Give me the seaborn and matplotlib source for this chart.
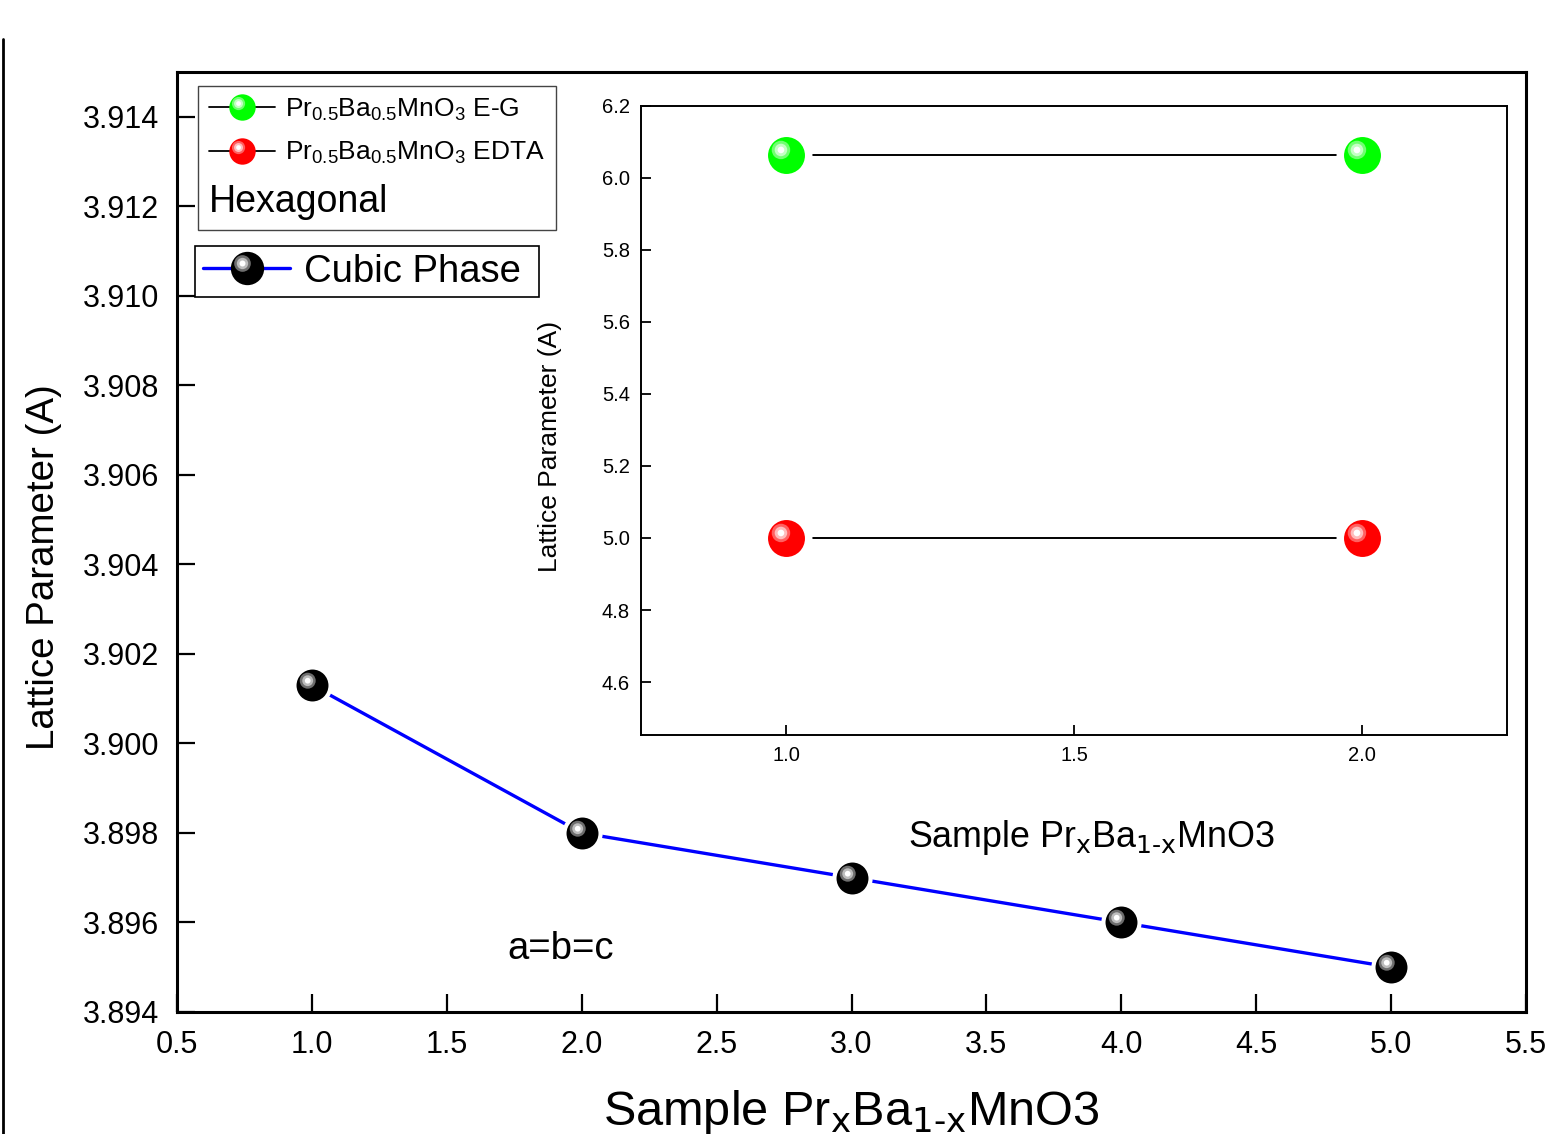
import numpy as np
import pandas as pd
import matplotlib
matplotlib.use("Agg")
import matplotlib.pyplot as plt
import seaborn as sns
from matplotlib.lines import Line2D
from matplotlib.path import Path
from matplotlib.legend_handler import HandlerTuple

# cubic phase (main panel)
sample_x = [1, 2, 3, 4, 5]
cubic_a = [3.9013, 3.8980, 3.8970, 3.8960, 3.8950]

# hexagonal phase (inset)
hex_x = [1, 2]
hex_eg = [6.064, 6.064]
hex_edta = [5.0, 5.0]

x_ticks = [0.5, 1.0, 1.5, 2.0, 2.5, 3.0, 3.5, 4.0, 4.5, 5.0, 5.5]
y_ticks = [3.894, 3.896, 3.898, 3.900, 3.902, 3.904, 3.906, 3.908, 3.910, 3.912, 3.914]
inset_x_ticks = [1.0, 1.5, 2.0]
inset_y_ticks = [4.6, 4.8, 5.0, 5.2, 5.4, 5.6, 5.8, 6.0, 6.2]

sns.set_style("ticks")
plt.rcParams["font.family"] = ["Liberation Sans", "DejaVu Sans"]
plt.rcParams["mathtext.default"] = "regular"
for k in ["text.color", "axes.labelcolor", "xtick.color", "ytick.color", "axes.edgecolor"]:
    plt.rcParams[k] = "black"

XLABEL = r"Sample Pr$_{\text{x}}$Ba$_{\text{1-x}}$MnO3"


def glint(cx, cy, r):
    # highlight spot, coordinates in units of the ball radius
    c = Path.circle((cx, cy), r)
    verts = np.vstack([[1.0, 1.0], c.vertices])
    codes = np.concatenate([[Path.MOVETO], c.codes])
    return Path(verts, codes)


glints = [glint(-0.3, 0.3, 0.5), glint(-0.3, 0.3, 0.34), glint(-0.3, 0.3, 0.18)]

shades = {
    "black": ["#6e6e6e", "#bdbdbd", "white"],
    "#00ff00": ["#70ff70", "#c4ffc4", "white"],
    "#ff0000": ["#ff6060", "#ffbcbc", "white"],
}


def ball(ax, x, y, color, ms, mew, line_color, lw):
    df = pd.DataFrame({"x": x, "y": y})
    inner = ms - mew
    sns.lineplot(data=df, x="x", y="y", ax=ax, color=line_color, lw=lw,
                 marker="o", markersize=ms, markerfacecolor=color,
                 markeredgecolor="white", markeredgewidth=mew, zorder=3)
    for i, (g, c) in enumerate(zip(glints, shades[color])):
        ax.plot(x, y, ls="none", marker=g, markersize=inner, mfc=c, mew=0, zorder=4 + i)


def ball_handle(color, line_color, ms, lw):
    hs = [Line2D([], [], color=line_color, lw=lw, marker="o", markersize=ms,
                 mfc=color, mec=color, mew=0)]
    for g, c in zip(glints, shades[color]):
        hs.append(Line2D([], [], ls="none", marker=g, markersize=ms, mfc=c, mew=0))
    return tuple(hs)


fig = plt.figure(figsize=(15.45, 11.34), dpi=100)
ax = fig.add_axes([0.1146, 0.1076, 0.8731, 0.8289])

ball(ax, sample_x, cubic_a, "black", 26, 3, "#0000ff", 2.4)

ax.set_xlim(0.5, 5.5)
ax.set_ylim(3.894, 3.915)
ax.set_xticks(x_ticks)
ax.set_xticklabels([f"{v:.1f}" for v in x_ticks])
ax.set_yticks(y_ticks)
ax.set_yticklabels([f"{v:.3f}" for v in y_ticks])
ax.tick_params(direction="in", length=13, width=1.6, labelsize=22, pad=13,
               top=False, right=False)
for s in ax.spines.values():
    s.set_linewidth(2.2)
    s.set_visible(True)

ax.set_xlabel(XLABEL, fontsize=35, labelpad=20)
ax.set_ylabel("Lattice Parameter (A)", fontsize=27.7)
ax.yaxis.set_label_coords(-0.085, 0.473)

ax.text(1.92, 3.8954, "a=b=c", fontsize=27.5, ha="center", va="center")

# legends
leg1 = ax.legend(
    handles=[ball_handle("#00ff00", "black", 19, 1.3),
             ball_handle("#ff0000", "black", 19, 1.3),
             Line2D([], [], alpha=0)],
    labels=["Pr$_{0.5}$Ba$_{0.5}$MnO$_3$ E-G",
            "Pr$_{0.5}$Ba$_{0.5}$MnO$_3$ EDTA",
            "Hexagonal"],
    handler_map={tuple: HandlerTuple(ndivide=1, pad=0)},
    loc="upper left", bbox_to_anchor=(0.0156, 0.985), fontsize=19,
    frameon=True, fancybox=False, framealpha=1, edgecolor="#444444",
    handlelength=2.5, handletextpad=0.4, borderpad=0.4, labelspacing=0.66,
    borderaxespad=0,
)
leg1.get_frame().set_linewidth(1.0)
leg1.get_texts()[2].set_fontsize(27)
# drop the empty handle of the text-only row
row = leg1._legend_handle_box.get_children()[0].get_children()[2]
row._children = row._children[1:]
ax.add_artist(leg1)

leg2 = ax.legend(
    handles=[ball_handle("black", "#0000ff", 24, 2.4)],
    labels=["Cubic Phase "],
    handler_map={tuple: HandlerTuple(ndivide=1, pad=0)},
    loc="upper left", bbox_to_anchor=(0.0133, 0.815), fontsize=27.5,
    frameon=True, fancybox=False, framealpha=1, edgecolor="black",
    handlelength=2.3, handletextpad=0.35, borderpad=0.2, borderaxespad=0,
)
leg2.get_frame().set_linewidth(1.2)

# inset
axin = fig.add_axes([0.4149, 0.3519, 0.5605, 0.5547])
ball(axin, hex_x, hex_eg, "#00ff00", 32, 5.4, "black", 1.4)
ball(axin, hex_x, hex_edta, "#ff0000", 32, 5.4, "black", 1.4)
axin.set_xlim(0.748, 2.252)
axin.set_ylim(4.453, 6.2)
axin.set_xticks(inset_x_ticks)
axin.set_xticklabels([f"{v:.1f}" for v in inset_x_ticks])
axin.set_yticks(inset_y_ticks)
axin.set_yticklabels([f"{v:.1f}" for v in inset_y_ticks])
axin.tick_params(direction="in", length=7, width=1.3, labelsize=14.5, pad=8,
                 top=False, right=False)
for s in axin.spines.values():
    s.set_linewidth(1.4)
    s.set_visible(True)
axin.set_xlabel(XLABEL, fontsize=25.8)
axin.xaxis.set_label_coords(0.52, -0.132)
axin.set_ylabel("Lattice Parameter (A)", fontsize=19)
axin.yaxis.set_label_coords(-0.091, 0.458)

# frame edge on the far left
fig.add_artist(Line2D([0.002, 0.002], [0, 0.966], transform=fig.transFigure,
                      color="black", lw=2))

fig.savefig("out.png", dpi=100)
